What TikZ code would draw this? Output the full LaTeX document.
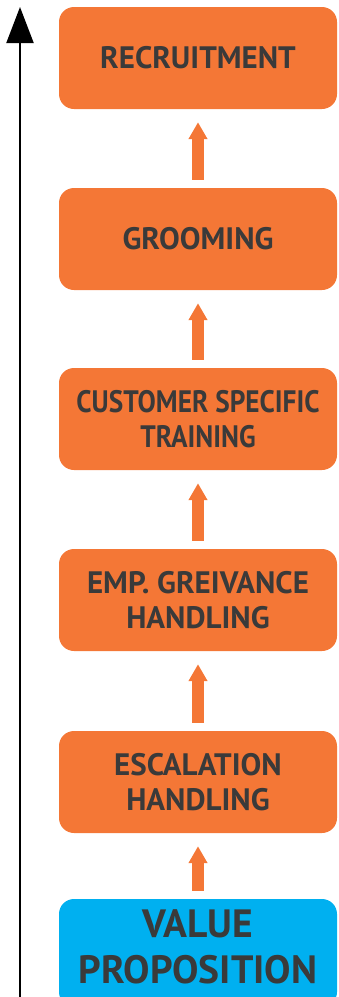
\documentclass[tikz,border=0pt]{standalone}
\usepackage{fontspec}
\setmainfont{PT Sans}
\newfontfamily\narrowfont[FakeStretch=0.88]{PT Sans}
\usetikzlibrary{arrows.meta}
\definecolor{boxorange}{HTML}{F47736}
\definecolor{boxblue}{HTML}{00B0F0}
\definecolor{boxtext}{HTML}{3A3A3A}

\begin{document}
\begin{tikzpicture}[x=1pt,y=1pt,
    stage/.style={fill=boxorange,rounded corners=15pt,minimum width=278pt,minimum height=102pt,
      inner sep=0,align=center,text=boxtext,font=\bfseries\fontsize{31}{35}\selectfont},
    goal/.style={stage,fill=boxblue,minimum height=108pt,text depth=12pt,font=\bfseries\fontsize{39.5}{46}\selectfont},
    uparrow/.style={draw=boxorange,line width=12pt,-{Triangle[width=18pt,length=17pt]},shorten >=13pt,shorten <=8pt}]
        \useasboundingbox (0,0) rectangle (339,-997);
        \node[stage] (recruit) at (198,-58) {RECRUITMENT};
        \node[stage] (groom) at (198,-239) {GROOMING};
        \node[stage,font=\narrowfont\bfseries\fontsize{31}{35}\selectfont] (train) at (198,-419) {CUSTOMER SPECIFIC\\TRAINING};
        \node[stage] (grieve) at (198,-600) {EMP. GREIVANCE\\HANDLING};
        \node[stage] (escal) at (198,-782) {ESCALATION\\HANDLING};
        \node[goal] (value) at (198,-953) {VALUE\\PROPOSITION};
        \draw[uparrow] (value.north) -- (escal.south);
        \draw[uparrow] (escal.north) -- (grieve.south);
        \draw[uparrow] (grieve.north) -- (train.south);
        \draw[uparrow] (train.north) -- (groom.south);
        \draw[uparrow] (groom.north) -- (recruit.south);
        % axis
        \coordinate (axisbot) at (20,-997);
        \coordinate (axistop) at (20,-7);
        \draw[line width=2pt,-{Triangle[width=27pt,length=36pt]}] (axisbot) -- (axistop);
      \end{tikzpicture}
\end{document}
